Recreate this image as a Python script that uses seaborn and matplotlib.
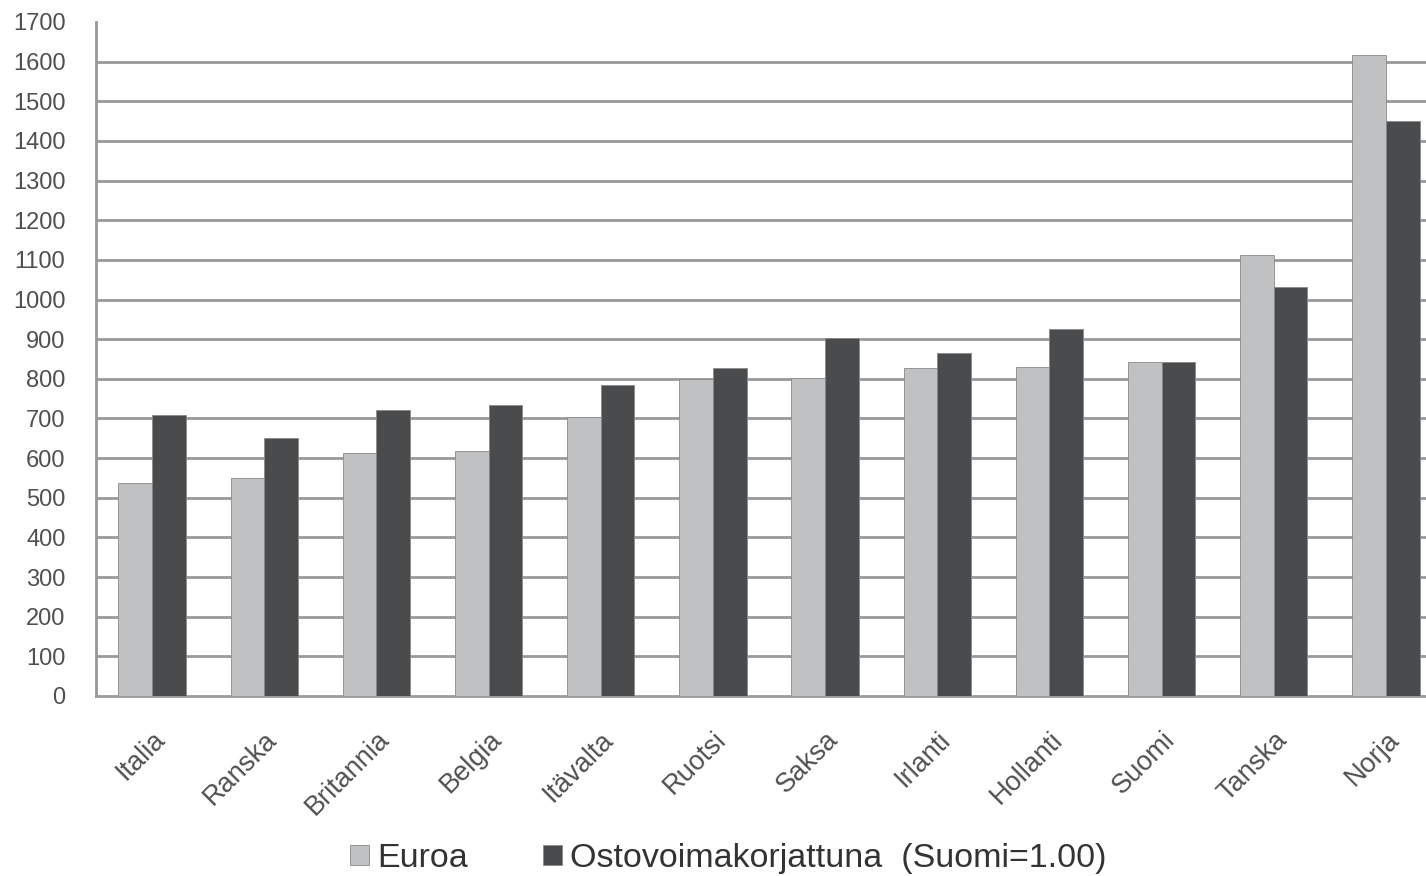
import matplotlib
matplotlib.use("Agg")
import matplotlib.pyplot as plt
import seaborn as sns
import pandas as pd

maat = ["Italia", "Ranska", "Britannia", "Belgia", "Itävalta", "Ruotsi",
        "Saksa", "Irlanti", "Hollanti", "Suomi", "Tanska", "Norja"]
euroa = [537, 550, 613, 619, 704, 800, 802, 827, 830, 843, 1112, 1617]
ostovoima = [709, 651, 721, 734, 784, 827, 903, 865, 926, 843, 1031, 1451]
sarjat = ["Euroa", "Ostovoimakorjattuna  (Suomi=1.00)"]

df = pd.DataFrame({
    "maa": maat * 2,
    "arvo": euroa + ostovoima,
    "sarja": [sarjat[0]] * len(maat) + [sarjat[1]] * len(maat),
})

sns.set_style("white")
plt.rcParams['font.family'] = ['Liberation Sans', 'DejaVu Sans']

fig = plt.figure(figsize=(14.26, 8.76), dpi=100)
ax = fig.add_axes([96 / 1426, 1 - 696 / 876, 1346 / 1426, 674 / 876])

sns.barplot(data=df, x="maa", y="arvo", hue="sarja", ax=ax,
            palette=["#c0c1c3", "#4a4b4d"], width=0.6, gap=0,
            edgecolor="#8a8a8a", linewidth=0.6, zorder=3)

ax.set_ylim(0, 1700)
ax.set_xlim(-0.5, 11.5)
ax.set_yticks(range(0, 1701, 100))
ax.yaxis.grid(True, color="#999999", linewidth=2, zorder=0)
ax.set_axisbelow(True)
ax.get_ygridlines()[-1].set_visible(False)
ax.get_ygridlines()[0].set_visible(False)

for s in ["top", "right"]:
    ax.spines[s].set_visible(False)
for s in ["left", "bottom"]:
    ax.spines[s].set_color("#999999")
    ax.spines[s].set_linewidth(2)

ax.set_xlabel("")
ax.set_ylabel("")
ax.tick_params(axis="y", length=0, pad=22, labelsize=17, labelcolor="#505050")
ax.tick_params(axis="x", length=0, pad=22, labelsize=19.5, labelcolor="#505050")
plt.setp(ax.get_xticklabels(), rotation=45, ha="right", rotation_mode="anchor")

ax.legend(loc="upper center", bbox_to_anchor=(0.470, -0.218), ncol=2,
          frameon=False, fontsize=24.5, handlelength=0.55, handleheight=0.55,
          handletextpad=0.25, columnspacing=2.2, labelcolor="#333333",
          borderaxespad=0, borderpad=0)

fig.savefig("out.png", dpi=100)
